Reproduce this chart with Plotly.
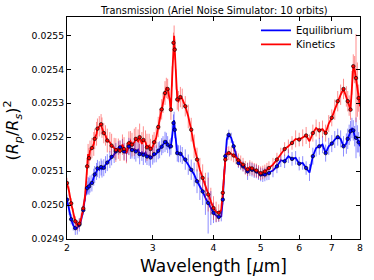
import math
import plotly.graph_objects as go

# ---------------- data ----------------
wavelength = [
    2.00, 2.02, 2.04, 2.06, 2.08, 2.10, 2.12, 2.14, 2.16, 2.18,
    2.20, 2.21, 2.22, 2.23, 2.25, 2.27, 2.28, 2.30, 2.31, 2.33,
    2.35, 2.36, 2.38, 2.40, 2.42, 2.45, 2.47, 2.50, 2.52, 2.55,
    2.57, 2.60, 2.62, 2.65, 2.68, 2.70, 2.72, 2.75, 2.77, 2.80,
    2.82, 2.85, 2.87, 2.90, 2.92, 2.95, 2.97, 3.00, 3.02, 3.05,
    3.08, 3.10, 3.13, 3.15, 3.18, 3.20, 3.22, 3.25, 3.27, 3.29,
    3.31, 3.32, 3.33, 3.35, 3.37, 3.39, 3.42, 3.45, 3.50, 3.55,
    3.60, 3.65, 3.70, 3.75, 3.80, 3.85, 3.90, 3.95, 4.00, 4.05,
    4.10, 4.15, 4.18, 4.20, 4.23, 4.26, 4.30, 4.35, 4.40, 4.45,
    4.50, 4.55, 4.60, 4.65, 4.70, 4.75, 4.80, 4.85, 4.90, 4.95,
    5.00, 5.05, 5.10, 5.15, 5.20, 5.30, 5.40, 5.50, 5.60, 5.70,
    5.80, 5.90, 6.00, 6.10, 6.20, 6.30, 6.40, 6.50, 6.60, 6.70,
    6.80, 6.90, 7.00, 7.10, 7.20, 7.30, 7.40, 7.50, 7.55, 7.60,
    7.65, 7.70, 7.75, 7.80, 7.85, 7.90, 7.95, 8.00,
]

equilibrium = [
    0.025016, 0.024986, 0.024958, 0.024940, 0.024932, 0.024933, 0.024942, 0.024958, 0.024985, 0.025026,
    0.025050, 0.025058, 0.025055, 0.025062, 0.025065, 0.025082, 0.025090, 0.025099, 0.025108, 0.025104,
    0.025112, 0.025106, 0.025110, 0.025119, 0.025125, 0.025134, 0.025142, 0.025149, 0.025158, 0.025168,
    0.025170, 0.025175, 0.025158, 0.025153, 0.025173, 0.025166, 0.025162, 0.025165, 0.025158, 0.025163,
    0.025150, 0.025155, 0.025148, 0.025155, 0.025143, 0.025146, 0.025140, 0.025144, 0.025150, 0.025151,
    0.025160, 0.025163, 0.025172, 0.025178, 0.025186, 0.025188, 0.025178, 0.025168, 0.025173, 0.025212,
    0.025242, 0.025250, 0.025222, 0.025173, 0.025153, 0.025151, 0.025151, 0.025146, 0.025134, 0.025119,
    0.025104, 0.025090, 0.025070, 0.025055, 0.025040, 0.025021, 0.025006, 0.024991, 0.024977, 0.024969,
    0.024965, 0.024967, 0.025016, 0.025075, 0.025144, 0.025193, 0.025207, 0.025198, 0.025173, 0.025144,
    0.025124, 0.025118, 0.025114, 0.025106, 0.025099, 0.025106, 0.025104, 0.025100, 0.025099, 0.025094,
    0.025090, 0.025088, 0.025090, 0.025093, 0.025094, 0.025102, 0.025114, 0.025132, 0.025129, 0.025144,
    0.025136, 0.025139, 0.025122, 0.025124, 0.025109, 0.025096, 0.025144, 0.025168, 0.025173, 0.025178,
    0.025153, 0.025173, 0.025181, 0.025193, 0.025200, 0.025195, 0.025173, 0.025181, 0.025195, 0.025207,
    0.025218, 0.025227, 0.025220, 0.025203, 0.025198, 0.025195, 0.025185, 0.025173,
]

kinetics = [
    0.025065, 0.025040, 0.025005, 0.024975, 0.024952, 0.024940, 0.024945, 0.024962, 0.024990, 0.025031,
    0.025114, 0.025150, 0.025138, 0.025160, 0.025168, 0.025180, 0.025195, 0.025210, 0.025225, 0.025232,
    0.025238, 0.025228, 0.025212, 0.025205, 0.025190, 0.025185, 0.025175, 0.025168, 0.025162, 0.025166,
    0.025160, 0.025178, 0.025165, 0.025153, 0.025182, 0.025188, 0.025178, 0.025185, 0.025195, 0.025188,
    0.025200, 0.025180, 0.025192, 0.025185, 0.025170, 0.025175, 0.025165, 0.025172, 0.025185, 0.025198,
    0.025230, 0.025252, 0.025282, 0.025301, 0.025330, 0.025345, 0.025342, 0.025311, 0.025281, 0.025379,
    0.025478, 0.025499, 0.025458, 0.025370, 0.025311, 0.025306, 0.025318, 0.025313, 0.025291, 0.025261,
    0.025222, 0.025173, 0.025134, 0.025104, 0.025080, 0.025055, 0.025031, 0.025011, 0.024991, 0.024980,
    0.024977, 0.024986, 0.025036, 0.025085, 0.025134, 0.025151, 0.025153, 0.025151, 0.025146, 0.025140,
    0.025132, 0.025126, 0.025119, 0.025110, 0.025105, 0.025112, 0.025108, 0.025104, 0.025102, 0.025098,
    0.025094, 0.025096, 0.025099, 0.025104, 0.025109, 0.025119, 0.025134, 0.025149, 0.025165, 0.025173,
    0.025183, 0.025195, 0.025193, 0.025198, 0.025205, 0.025188, 0.025212, 0.025227, 0.025220, 0.025224,
    0.025212, 0.025240, 0.025257, 0.025281, 0.025306, 0.025325, 0.025342, 0.025320, 0.025306, 0.025293,
    0.025281, 0.025360, 0.025409, 0.025399, 0.025374, 0.025340, 0.025315, 0.025291,
]

# error bars, in units of 1e-5
ERR_UNIT = 1e-5
equilibrium_err = [
    1.5, 1.5, 1.5, 1.5, 2, 2, 2, 1.5, 1.5, 1.5,
    2, 2.5, 2.5, 2.5, 2.5, 2.5, 2.5, 2.5, 2.5, 2.5,
    2.5, 2.5, 2.5, 2.5, 2.5, 2.5, 2.5, 2.5, 2.5, 2,
    2, 2, 2.5, 2.5, 2.5, 3, 2.5, 3, 3, 2.5,
    3, 2.5, 3, 3, 2.5, 3, 3, 2.5, 2.5, 2.5,
    2.5, 2.5, 2.5, 2.5, 3, 2.5, 2.5, 2.5, 2.5, 2.5,
    2.5, 2.5, 2.5, 2.5, 2.5, 2.5, 2.5, 2.5, 3, 3,
    3, 3.5, 3.5, 4, 4, 5, 9, 5, 3, 2,
    1.5, 1.5, 1.5, 1.5, 1.5, 1.5, 1.5, 1.5, 1.5, 1.5,
    1.5, 1.5, 1.5, 1.5, 2.5, 2, 2, 2, 2, 2,
    2, 2, 2, 2, 2, 2, 2, 2, 2, 2,
    2, 2, 2, 2, 2, 2.5, 2.5, 2.5, 2.5, 2.5,
    2.5, 2.5, 2.5, 2.5, 2.5, 2.5, 3, 3, 3, 3,
    3, 3, 3, 3, 6, 4, 3, 3,
]
kinetics_err = [
    1.5, 1.5, 1.5, 1.5, 1.5, 1.5, 1.5, 1.5, 1.5, 2,
    2.5, 3, 3, 3, 3, 3.5, 3, 3.5, 3, 3,
    3, 3, 3, 3, 3.5, 3, 3.5, 3, 3.5, 3,
    3, 3, 3.5, 3, 3.5, 3, 3.5, 4, 3.5, 3.5,
    4, 3.5, 4, 3.5, 4, 3.5, 3, 3.5, 3, 3,
    3, 3, 3, 3, 3.5, 3, 3, 3, 3, 3,
    3, 3, 3, 3, 3, 3, 3, 3, 3, 3.5,
    3.5, 3.5, 3.5, 3.5, 4, 4, 5, 4, 3.5, 3,
    2.5, 2, 2, 2, 2, 2, 2, 2, 2, 2,
    2, 2, 2, 2, 2, 2, 2, 2, 2, 2,
    2, 2, 2, 2, 2, 2, 2, 2, 2, 2,
    2, 2.5, 2, 2.5, 2.5, 2, 2.5, 2.5, 2.5, 2.5,
    2.5, 2.5, 2.5, 3, 3, 3, 3, 3, 3, 3,
    3, 3.5, 3.5, 4, 13, 8, 4, 4,
]

x_ticks = [2, 3, 4, 5, 6, 7, 8]
y_ticks = [0.0249, 0.0250, 0.0251, 0.0252, 0.0253, 0.0254, 0.0255]

title_text = "Transmission (Ariel Noise Simulator: 10 orbits)"
series_names = ["Equilibrium", "Kinetics"]

# ---------------- figure ----------------
FONT = "DejaVu Sans"
fig = go.Figure()

series = [
    (series_names[0], equilibrium, equilibrium_err, "#0000ff", "rgba(0,0,255,0.45)", "legend"),
    (series_names[1], kinetics, kinetics_err, "#ff0000", "rgba(255,0,0,0.45)", "legend2"),
]

for name, vals, err, col, ecol, leg in series:
    fig.add_trace(go.Scatter(
        x=wavelength, y=vals, mode="lines", name=name, legend=leg,
        line=dict(color=col, width=1.8),
        error_y=dict(type="data", array=[e * ERR_UNIT for e in err],
                     visible=True, color=ecol, thickness=1, width=0),
    ))

for name, vals, err, col, ecol, leg in series:
    fig.add_trace(go.Scatter(
        x=wavelength[::2], y=vals[::2], mode="markers", showlegend=False,
        marker=dict(symbol="circle", size=3.5, color=col,
                    line=dict(color="rgba(0,0,0,0.8)", width=0.8)),
        hoverinfo="skip",
    ))

axis_common = dict(
    showline=True, linecolor="black", linewidth=1, mirror="allticks",
    ticks="inside", ticklen=4, tickcolor="black", tickwidth=1,
    showgrid=False, zeroline=False,
    tickfont=dict(family=FONT, size=9.3, color="black"),
)

legend_common = dict(xanchor="left", yanchor="middle", bgcolor="rgba(0,0,0,0)",
                     font=dict(family=FONT, size=10), itemwidth=30,
                     borderwidth=0)

fig.update_layout(
    width=374, height=280,
    margin=dict(l=67, r=11, t=17, b=41),
    paper_bgcolor="white", plot_bgcolor="white",
    font=dict(family=FONT, color="black"),
    xaxis=dict(type="log", range=[math.log10(2), math.log10(8)],
               tickvals=x_ticks, ticktext=[str(v) for v in x_ticks], **axis_common),
    yaxis=dict(range=[0.0249, 0.025554], tickvals=y_ticks, tickformat=".4f", **axis_common),
    legend=dict(x=0.645, y=0.94, **legend_common),
    legend2=dict(x=0.645, y=0.877, **legend_common),
    showlegend=True,
    annotations=[
        dict(text=title_text, x=0.5, y=1, xref="paper", yref="paper",
             xanchor="center", yanchor="bottom", yshift=-1.5, showarrow=False,
             font=dict(family=FONT, size=9.8)),
        dict(text="Wavelength [<i>μ</i>m]", x=0.5, y=0, xref="paper", yref="paper",
             xanchor="center", yanchor="top", yshift=-15, showarrow=False,
             font=dict(family=FONT, size=17)),
        dict(text="(<i>R</i><sub><i>p</i></sub>/<i>R</i><sub><i>s</i></sub>)<sup>2</sup>",
             x=0, y=0.5, xref="paper", yref="paper", xanchor="right", yanchor="middle",
             xshift=-41, yshift=-3, textangle=-90, showarrow=False,
             font=dict(family=FONT, size=16)),
    ],
)

fig.write_html("out.html", config={"displayModeBar": False},
               post_script="document.body.style.margin='0';document.body.style.padding='0';")
